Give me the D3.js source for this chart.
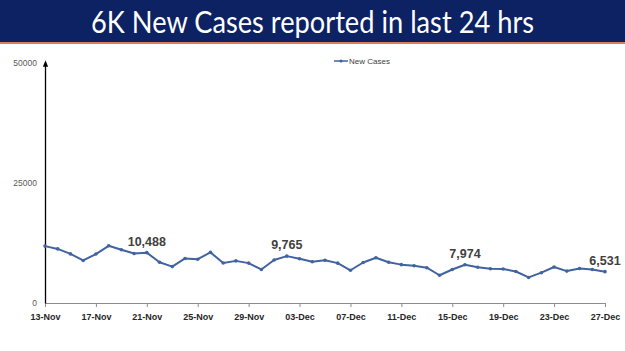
<!DOCTYPE html>
<html>
<head>
<meta charset="utf-8">
<script src="https://cdn.jsdelivr.net/npm/d3@7"></script>
<style>
  html, body { margin: 0; padding: 0; background: #fff; }
  svg { display: block; }
</style>
</head>
<body>
<script>
// daily new cases, 13-Nov to 27-Dec
const startDate = new Date(2021, 10, 13);
const endDate = new Date(2021, 11, 27);
const newCases = [
  11850, 11271, 10229, 8865, 10197, 11919, 11106, 10302, 10488, 8488,
  7579, 9283, 9119, 10549, 8318, 8774, 8309, 6990, 8954, 9765,
  9216, 8603, 8895, 8306, 6822, 8439, 9419, 8503, 7992, 7774,
  7350, 5784, 6984, 7974, 7447, 7145, 7081, 6563, 5326, 6317,
  7495, 6650, 7189, 6987, 6531
];
const yTicks = [0, 25000, 50000];
const xTickLabels = ["13-Nov", "17-Nov", "21-Nov", "25-Nov", "29-Nov", "03-Dec",
  "07-Dec", "11-Dec", "15-Dec", "19-Dec", "23-Dec", "27-Dec"];
const labelled = ["21-Nov", "02-Dec", "16-Dec", "27-Dec"];
const title = "6K New Cases reported in last 24 hrs";

const width = 625, height = 351;
const margin = {top: 63, right: 20, bottom: 48, left: 45};

const fmtDay = d3.timeFormat("%d-%b");
const days = d3.timeDay.range(startDate, d3.timeDay.offset(endDate, 1));
const data = days.map((d, i) => ({date: d, label: fmtDay(d), value: newCases[i]}));

const svg = d3.select("body").append("svg")
  .attr("width", width)
  .attr("height", height);

// title banner
svg.append("rect")
  .attr("x", 0).attr("y", 0)
  .attr("width", width).attr("height", 42)
  .attr("fill", "#0c2263");
svg.append("rect")
  .attr("x", 0).attr("y", 42)
  .attr("width", width).attr("height", 2)
  .attr("fill", "#d9805a");
svg.append("text")
  .attr("x", width / 2)
  .attr("y", 33)
  .attr("text-anchor", "middle")
  .attr("font-family", "Lato, 'Open Sans', sans-serif")
  .attr("font-size", 30)
  .attr("fill", "#fff")
  .attr("textLength", 443)
  .attr("lengthAdjust", "spacingAndGlyphs")
  .text(title);

const x = d3.scaleTime()
  .domain([startDate, endDate])
  .range([margin.left, width - margin.right]);

const y = d3.scaleLinear()
  .domain([0, 50000])
  .range([height - margin.bottom, margin.top]);

const tickDates = days.filter(d => xTickLabels.includes(fmtDay(d)));

// x axis
const gx = svg.append("g")
  .attr("transform", `translate(0,${y(0)})`)
  .call(d3.axisBottom(x)
    .tickValues(tickDates)
    .tickFormat(fmtDay)
    .tickSizeInner(4)
    .tickSizeOuter(0)
    .tickPadding(7));
gx.select(".domain").attr("stroke", "#8c8c8c");
gx.selectAll(".tick line").attr("stroke", "#8c8c8c");
gx.selectAll(".tick text")
  .attr("font-family", "'Liberation Sans', Arial, sans-serif")
  .attr("font-size", 9)
  .attr("font-weight", "bold")
  .attr("fill", "#262626");

// arrow for y axis
svg.append("defs").append("marker")
  .attr("id", "arrow")
  .attr("viewBox", "0 0 10 10")
  .attr("refX", 5).attr("refY", 5)
  .attr("markerWidth", 5).attr("markerHeight", 5)
  .attr("orient", "auto")
  .append("path")
  .attr("d", "M0,1L10,5L0,9Z")
  .attr("fill", "#000");

// y axis
const gy = svg.append("g")
  .attr("transform", `translate(${margin.left},0)`)
  .call(d3.axisLeft(y)
    .tickValues(yTicks)
    .tickFormat(d3.format("d"))
    .tickSize(0)
    .tickPadding(8));
gy.select(".domain")
  .attr("stroke", "#000")
  .attr("stroke-width", 1.3)
  .attr("marker-end", "url(#arrow)");
gy.selectAll(".tick text")
  .attr("font-family", "'Liberation Sans', Arial, sans-serif")
  .attr("font-size", 8.5)
  .attr("fill", "#595959");

// line
const lineColor = "#41639f";
const line = d3.line()
  .x(d => x(d.date))
  .y(d => y(d.value));

svg.append("path")
  .datum(data)
  .attr("fill", "none")
  .attr("stroke", lineColor)
  .attr("stroke-width", 2)
  .attr("stroke-linejoin", "round")
  .attr("d", line);

svg.append("g")
  .selectAll("circle")
  .data(data)
  .join("circle")
  .attr("cx", d => x(d.date))
  .attr("cy", d => y(d.value))
  .attr("r", 1.8)
  .attr("fill", lineColor);

// data labels
svg.append("g")
  .selectAll("text")
  .data(data.filter(d => labelled.includes(d.label)))
  .join("text")
  .attr("x", d => x(d.date))
  .attr("y", d => y(d.value) - 7)
  .attr("text-anchor", "middle")
  .attr("font-family", "'Liberation Sans', Arial, sans-serif")
  .attr("font-size", 12.5)
  .attr("font-weight", "bold")
  .attr("fill", "#404040")
  .text(d => d3.format(",")(d.value));

// legend
const legend = svg.append("g").attr("transform", "translate(334,61)");
legend.append("line")
  .attr("x1", 0).attr("x2", 14)
  .attr("stroke", lineColor)
  .attr("stroke-width", 1.5);
legend.append("circle")
  .attr("cx", 7).attr("r", 1.6)
  .attr("fill", lineColor);
legend.append("text")
  .attr("x", 15)
  .attr("dy", "0.35em")
  .attr("font-family", "'Liberation Sans', Arial, sans-serif")
  .attr("font-size", 8)
  .attr("fill", "#404040")
  .text("New Cases");
</script>
</body>
</html>
